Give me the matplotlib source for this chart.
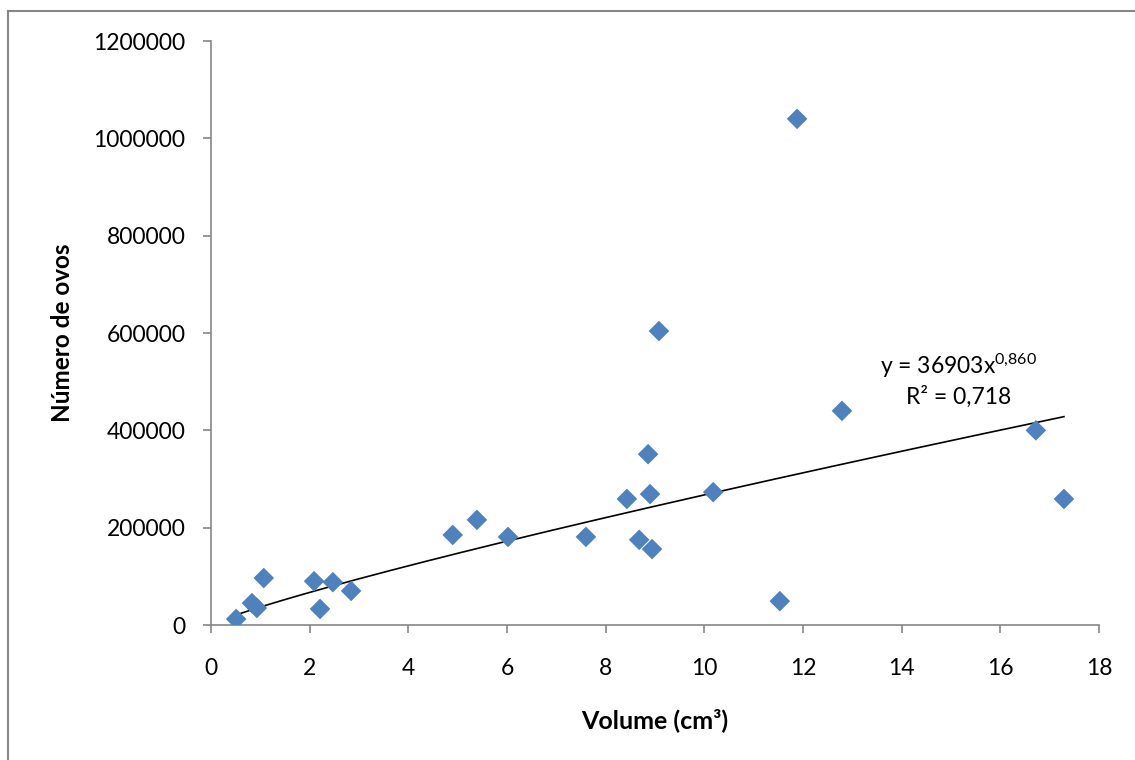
import matplotlib
matplotlib.use("Agg")
import matplotlib.pyplot as plt
from matplotlib.lines import Line2D
import numpy as np

plt.rcParams['font.family'] = ['Lato', 'DejaVu Sans']

# Data
volume = [0.51, 0.83, 0.93, 1.07, 2.09, 2.21, 2.47, 2.84, 4.90, 5.39, 6.02, 7.60,
          8.43, 8.68, 8.86, 8.90, 8.94, 9.08, 10.18, 11.53, 11.88, 12.79, 16.72, 17.29]
ovos = [12300, 45000, 35000, 96500, 90000, 33000, 88000, 70000, 185000, 216000, 181000, 181000,
        259000, 175000, 351000, 269000, 156000, 604000, 273000, 49000, 1040000, 440000, 400000, 259000]

fit_a = 36903
fit_b = 0.860
r2_text = "R² = 0,718"
eq_text = r"y = 36903x$\mathregular{^{0{,}860}}$"

x_ticks = list(range(0, 19, 2))
y_ticks = list(range(0, 1200001, 200000))

W, H = 1135, 760
fig = plt.figure(figsize=(W / 100, H / 100), dpi=100)
ax = fig.add_axes([211 / W, 1 - 625 / H, (1099 - 211) / W, (625 - 41) / H])

ax.scatter(volume, ovos, marker='D', s=10.5 ** 2, color='#4F81BD', edgecolors='none', zorder=3)

xf = np.linspace(min(volume), max(volume), 200)
ax.plot(xf, fit_a * xf ** fit_b, color='black', lw=1.2, zorder=2)

ax.set_xlim(0, 18)
ax.set_ylim(0, 1200000)
ax.set_xticks(x_ticks)
ax.set_yticks(y_ticks)
ax.set_xticklabels([str(v) for v in x_ticks])
ax.set_yticklabels([str(v) for v in y_ticks])

for s in ['top', 'right']:
    ax.spines[s].set_visible(False)
for s in ['left', 'bottom']:
    ax.spines[s].set_color('#868686')
    ax.spines[s].set_linewidth(1.2)

ax.tick_params(axis='both', colors='#868686', labelcolor='black', labelsize=16.5,
               length=5.5, width=1.2, direction='out')
ax.tick_params(axis='x', pad=18)
ax.tick_params(axis='y', pad=13)

ax.set_xlabel("Volume (cm³)", fontsize=18, fontweight='bold', va='center')
ax.xaxis.set_label_coords(0.5, (625 - 720) / 584)
ax.set_ylabel("Número de ovos", fontsize=17.5, fontweight='bold', va='center')
ax.yaxis.set_label_coords((62 - 211) / 888, 0.5)

ax.text(15.16, 532000, eq_text, ha='center', va='center', fontsize=16.5)
ax.text(15.16, 468000, r2_text, ha='center', va='center', fontsize=16.5)

# outer chart frame (top and left visible)
fig.add_artist(Line2D([8 / W, 8 / W], [0, 1 - 11 / H], transform=fig.transFigure,
                      color='#868686', lw=1.5))
fig.add_artist(Line2D([8 / W, 1], [1 - 11 / H, 1 - 11 / H], transform=fig.transFigure,
                      color='#868686', lw=1.5))

fig.savefig("out.png", dpi=100)
